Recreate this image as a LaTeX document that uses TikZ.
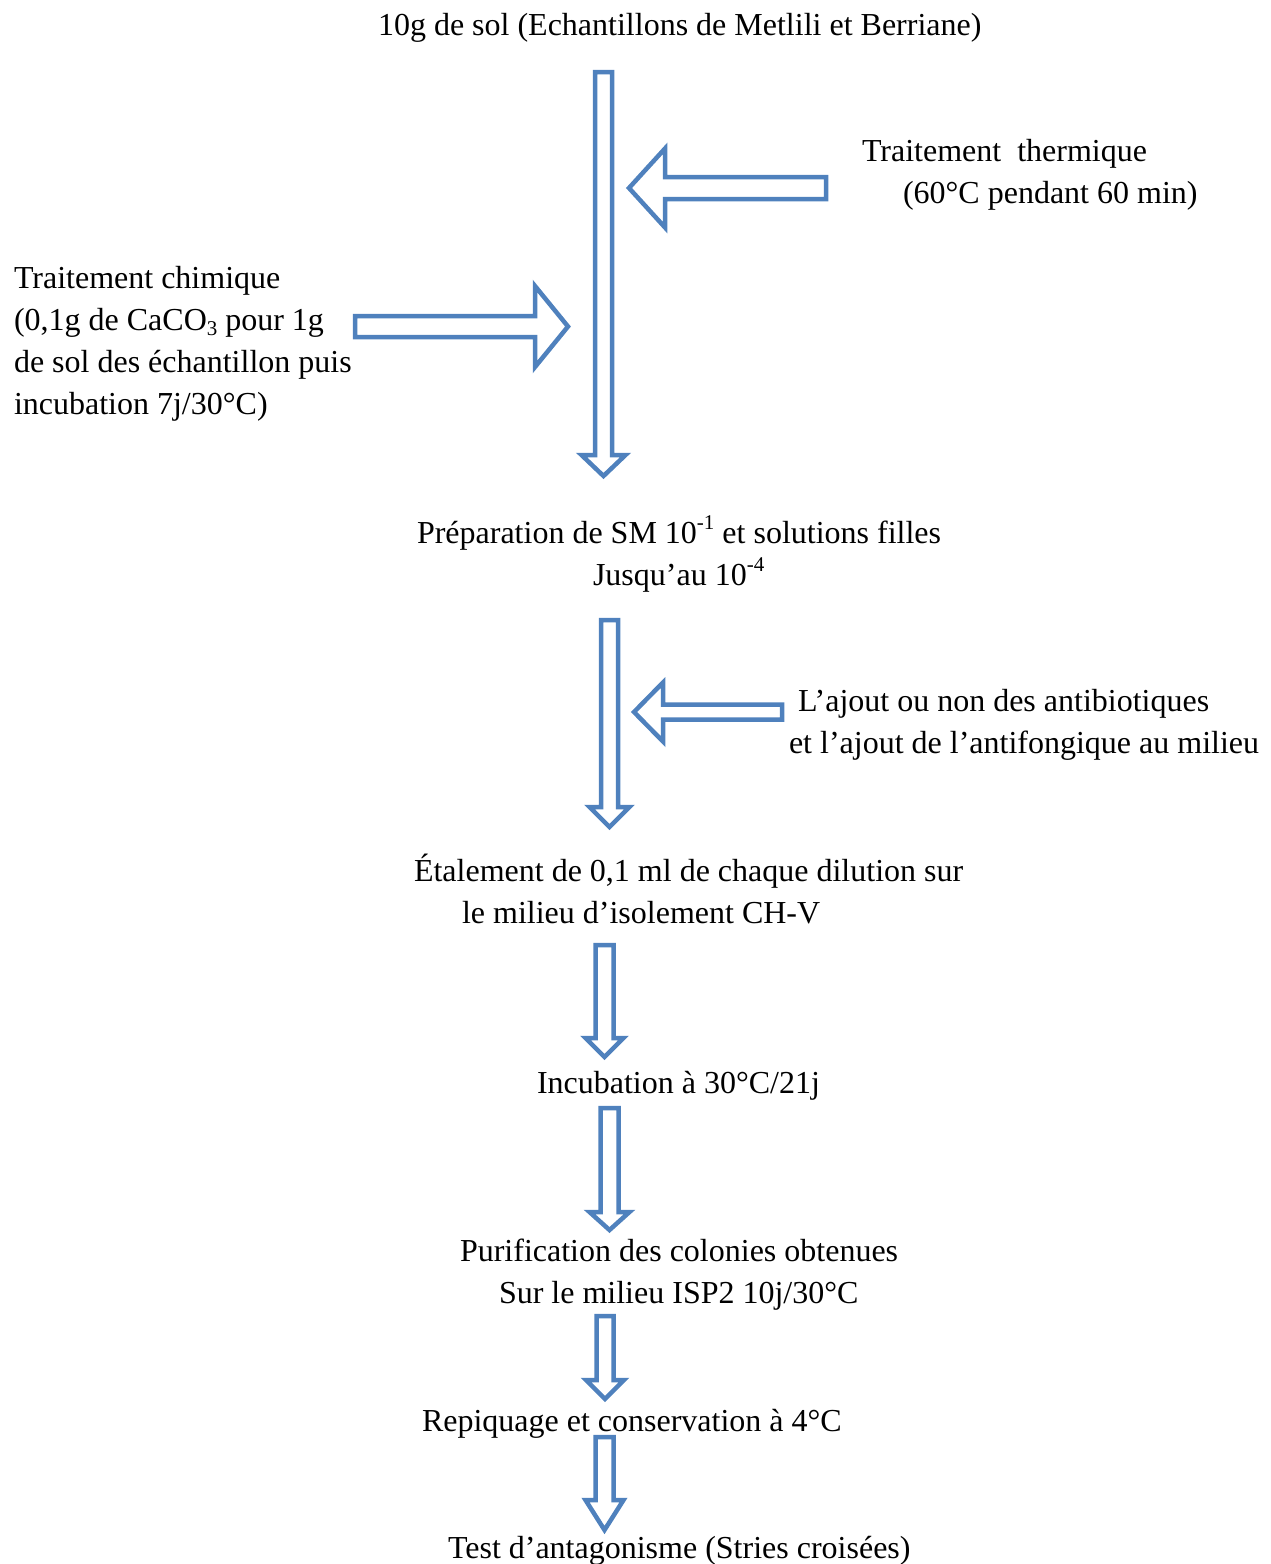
\documentclass[tikz,border=0pt]{standalone}
\usepackage{fontspec}
\setmainfont{Liberation Serif}
\definecolor{arrowblue}{RGB}{79,129,189}
\tikzset{
  blockarrow/.style={draw=arrowblue, line width=4.5pt, fill=white, line join=miter},
  lbl/.style={anchor=base west, inner sep=0pt, outer sep=0pt, font=\fontsize{32}{38}\selectfont}
}
\newcommand\vdarrow[6]{%
  \draw[blockarrow] ({#1-#5},#2) -- ({#1+#5},#2) -- ({#1+#5},#3) -- ({#1+#6},#3) -- (#1,#4) -- ({#1-#6},#3) -- ({#1-#5},#3) -- cycle;}
% left-pointing: tip x, y, head back x, head half, shaft half, tail x
\newcommand\hlarrow[6]{%
  \draw[blockarrow] (#1,#2) -- (#3,{#2-#4}) -- (#3,{#2-#5}) -- (#6,{#2-#5}) -- (#6,{#2+#5}) -- (#3,{#2+#5}) -- (#3,{#2+#4}) -- cycle;}
\newcommand\supx[1]{\raisebox{0.42em}{\fontsize{21}{21}\selectfont #1}}
\newcommand\subx[1]{\raisebox{-0.18em}{\fontsize{21}{21}\selectfont #1}}
\begin{document}
\begin{tikzpicture}[x=1pt,y=-1pt]
\useasboundingbox (0,0) rectangle (1271,1564);
% arrows
\vdarrow{603.5}{72}{455}{476}{8.5}{22}
\vdarrow{609.5}{620}{807}{827}{8.5}{20}
\vdarrow{604.5}{945}{1038}{1057}{9}{19}
\vdarrow{609.5}{1108}{1212}{1230}{9}{20}
\vdarrow{605}{1316}{1380}{1399}{8.5}{19}
\vdarrow{604.5}{1437}{1500}{1530}{9}{19}
\hlarrow{629}{188}{665}{39.5}{11}{826}
\hlarrow{568}{326.5}{535}{40.5}{10.5}{355}
\hlarrow{634}{712}{663}{29.5}{7.5}{782}
% texts
\node[lbl] (t1) at (378,35) {10g de sol (Echantillons de Metlili et Berriane)};
\node[lbl] (th1) at (862,161) {Traitement\ \ thermique};
\node[lbl] (th2) at (903,203) {(60°C pendant 60 min)};
\node[lbl] (ch1) at (14,288) {Traitement chimique};
\node[lbl] (ch2) at (14,330) {(0,1g de CaCO\subx{3} pour 1g};
\node[lbl] (ch3) at (14,372) {de sol des échantillon puis};
\node[lbl] (ch4) at (14,414) {incubation 7j/30°C)};
\node[lbl] (p1) at (417,543) {Préparation de SM 10\supx{-1} et solutions filles};
\node[lbl] (p2) at (593,585) {Jusqu’au 10\supx{-4}};
\node[lbl] (a1) at (798,711) {L’ajout ou non des antibiotiques};
\node[lbl] (a2) at (789,753) {et l’ajout de l’antifongique au milieu};
\node[lbl] (e1) at (414,881) {Étalement de 0,1 ml de chaque dilution sur};
\node[lbl] (e2) at (462,923) {le milieu d’isolement CH-V};
\node[lbl] (i1) at (537,1093) {Incubation à 30°C/21j};
\node[lbl] (pu1) at (460,1261) {Purification des colonies obtenues};
\node[lbl] (pu2) at (499,1303) {Sur le milieu ISP2 10j/30°C};
\node[lbl] (r1) at (422,1431) {Repiquage et conservation à 4°C};
\node[lbl] (ts1) at (448,1558) {Test d’antagonisme (Stries croisées)};
\end{tikzpicture}
\end{document}
